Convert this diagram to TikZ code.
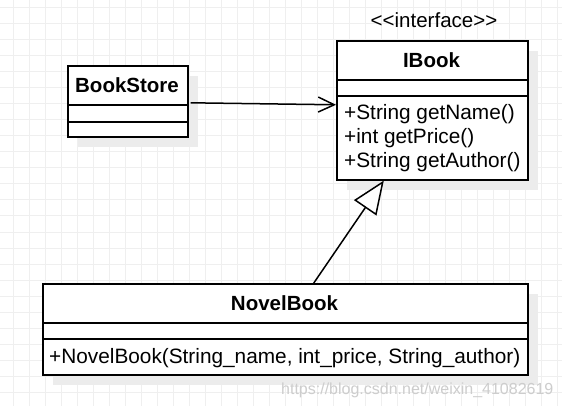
\documentclass[tikz,border=0pt]{standalone}
\usepackage{fontspec}
\setmainfont{Liberation Sans}
\usetikzlibrary{arrows.meta,calc}
\definecolor{gridc}{RGB}{239,239,239}
\definecolor{shadowc}{RGB}{236,236,236}
\definecolor{wmark}{RGB}{205,205,205}
\begin{document}
\begin{tikzpicture}[x=1pt,y=-1pt,
  classbox/.style={draw=black, line width=1.6pt, fill=white, rectangle, inner sep=0pt, anchor=north west},
  divider/.style={draw=black, line width=1.6pt},
  titletext/.style={font=\fontsize{20.5}{24}\selectfont\bfseries, inner sep=0pt, anchor=base},
  membertext/.style={font=\fontsize{20.8}{24}\selectfont, inner sep=0pt, anchor=base west},
  conn/.style={draw=black, line width=1.5pt},
]
\useasboundingbox (0,0) rectangle (562,406);
\fill[white] (0,0) rectangle (562,406);
\foreach \x in {13,29,...,557} \draw[gridc, line width=1pt] (\x,0) -- (\x,406);
\foreach \y in {8,24,...,400} \draw[gridc, line width=1pt] (0,\y) -- (562,\y);
% shadows
\fill[shadowc] (78,76) rectangle (198,147);
\fill[shadowc] (347,51) rectangle (538,190);
\fill[shadowc] (53,294) rectangle (538,385);
% class boxes
\node[classbox, minimum width=120pt, minimum height=71pt] (bs) at (67,65) {};
\node[classbox, minimum width=191pt, minimum height=139pt] (ib) at (336,40) {};
\node[classbox, minimum width=485pt, minimum height=91pt] (nb) at (42,283) {};
% dividers
\draw[divider] (bs.west |- 0,105) -- (bs.east |- 0,105);
\draw[divider] (bs.west |- 0,122) -- (bs.east |- 0,122);
\draw[divider] (ib.west |- 0,80) -- (ib.east |- 0,80);
\draw[divider] (ib.west |- 0,96) -- (ib.east |- 0,96);
\draw[divider] (nb.west |- 0,323) -- (nb.east |- 0,323);
\draw[divider] (nb.west |- 0,339) -- (nb.east |- 0,339);
% texts
\node[titletext] (bst) at (127,93) {BookStore};
\node[font=\fontsize{20.5}{24}\selectfont, inner sep=0pt, anchor=base] (stereo) at (434,28) {<\kern0pt<interface>\kern0pt>};
\node[titletext] (ibt) at (431.5,68) {IBook};
\node[membertext] (m1) at (344,120) {+String getName()};
\node[membertext] (m2) at (344,144) {+int getPrice()};
\node[membertext] (m3) at (344,168) {+String getAuthor()};
\node[titletext] (nbt) at (284.5,310) {NovelBook};
\node[membertext] (m4) at (49,363) {+NovelBook(String\_name, int\_price, String\_author)};
\node[font=\fontsize{16}{19}\selectfont, text=wmark, inner sep=0pt, anchor=base west] (wm) at (281,394) {https://blog.csdn.net/weixin\_41082619};
% connectors
\draw[conn, -{Straight Barb[length=16pt, width=15pt]}] ([xshift=2pt, yshift=-1.5pt]bs.east) -- ([yshift=5.5pt]ib.west);
\draw[conn, -{Triangle[open, length=33pt, width=27pt, fill=white]}] ([xshift=28.5pt]nb.north) -- ([xshift=-48.5pt]ib.south);
\end{tikzpicture}
\end{document}
